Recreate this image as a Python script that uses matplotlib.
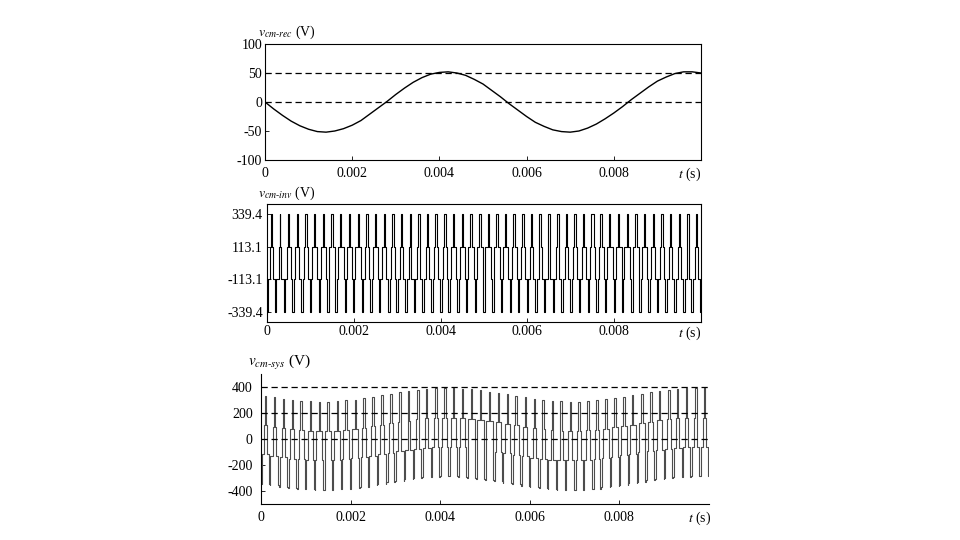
import numpy as np
import matplotlib
matplotlib.use('Agg')
import matplotlib.pyplot as plt

plt.rcParams['font.family'] = 'Liberation Serif'
plt.rcParams['mathtext.fontset'] = 'stix'

# rectifier common-mode voltage, read every 0.2 ms
t_rec = np.linspace(0, 0.01, 51)
v_rec = [0, -12, -23, -33, -41, -47, -51, -52, -50, -46,
         -40, -32, -21, -10, 1, 13, 24, 34, 42, 48,
         51, 52, 50, 46, 39, 31, 20, 9, -3, -14,
         -25, -35, -42, -48, -51, -52, -50, -45, -38, -29,
         -19, -8, 4, 15, 26, 36, 43, 49, 52, 52, 50]

# inverter common-mode levels and per switching period timing (5 kHz)
cm_levels = [-339.4, -113.1, 113.1, 339.4]
T_sw = 0.0002
zero_frac = [0.30, 0.22, 0.35, 0.28, 0.41, 0.25, 0.33, 0.46, 0.27, 0.38,
             0.24, 0.43, 0.31, 0.26, 0.48, 0.35, 0.29, 0.40, 0.23, 0.37,
             0.45, 0.28, 0.34, 0.25, 0.42, 0.31, 0.39, 0.22, 0.47, 0.33,
             0.27, 0.44, 0.30, 0.36, 0.24, 0.41, 0.29, 0.49, 0.32, 0.26,
             0.38, 0.23, 0.45, 0.34, 0.28, 0.40, 0.25, 0.36, 0.43, 0.30]
low_share = [0.80, 0.72, 0.63, 0.55, 0.46, 0.38, 0.30, 0.22, 0.18, 0.27,
             0.35, 0.44, 0.52, 0.61, 0.69, 0.78, 0.84, 0.75, 0.66, 0.58,
             0.49, 0.41, 0.33, 0.25, 0.17, 0.24, 0.32, 0.41, 0.50, 0.58,
             0.67, 0.75, 0.83, 0.77, 0.68, 0.60, 0.51, 0.43, 0.34, 0.26,
             0.19, 0.22, 0.31, 0.39, 0.48, 0.56, 0.65, 0.73, 0.82, 0.79]

xticks = [0, 0.002, 0.004, 0.006, 0.008]
xticklabels = ['0', '0.002', '0.004', '0.006', '0.008']


def cm_steps(offsets):
    ts, vs = [], []
    for k in range(len(zero_frac)):
        z = zero_frac[k]
        s = low_share[k]
        lo = (1 - z) * s / 2
        hi = (1 - z) * (1 - s) / 2
        durs = [z / 4, lo, hi, z / 2, hi, lo, z / 4]
        lev = [0, 1, 2, 3, 2, 1, 0]
        t0 = k * T_sw
        for d, l in zip(durs, lev):
            ts.append(t0)
            vs.append(cm_levels[l] + offsets[k])
            t0 += d * T_sw
    ts.append(len(zero_frac) * T_sw)
    vs.append(vs[-1])
    return ts, vs


fig = plt.figure(figsize=(9.6, 5.4), dpi=100)
fs = 10

# top: rectifier
ax1 = fig.add_axes([265/960, 1-160/540, 436/960, 116/540])
ax1.plot(t_rec, v_rec, color='black', lw=1.0)
for y in [50, 0]:
    ax1.axhline(y, color='black', lw=0.9, dashes=(5, 3))
ax1.set_xlim(0, 0.01)
ax1.set_ylim(-100, 100)
ax1.set_yticks([-100, -50, 0, 50, 100])
ax1.set_yticklabels(['-100', '-50', '0', '50', '100'])
ax1.tick_params(axis='y', pad=2)
ax1.tick_params(axis='x', pad=5)
fig.text(258/960, 1-32/540, r'$v_{cm\text{-}rec}$ (V)', fontsize=fs, ha='left', va='center')

# middle: inverter
ax2 = fig.add_axes([267/960, 1-322/540, 434/960, 118/540])
ts, vs = cm_steps([0] * len(zero_frac))
ax2.step(ts, vs, where='post', color='black', lw=0.8)
ax2.set_xlim(0, 0.01)
ax2.set_ylim(-408, 408)
ax2.set_yticks(cm_levels)
ax2.set_yticklabels(['-339.4', '-113.1', '113.1', '339.4'])
ax2.tick_params(axis='y', pad=3)
ax2.tick_params(axis='x', pad=2)
fig.text(258/960, 1-193/540, r'$v_{cm\text{-}inv}$ (V)', fontsize=fs, ha='left', va='center')

# bottom: system
ax3 = fig.add_axes([261/960, 1-504/540, 448/960, 130/540])
offs = [(v_rec[k] + v_rec[k + 1]) / 2 for k in range(len(zero_frac))]
ts3, vs3 = cm_steps(offs)
ax3.step(ts3, vs3, where='post', color='0.3', lw=0.8)
for y in [400, 200, 0]:
    ax3.axhline(y, color='black', lw=0.9, dashes=(5, 3))
ax3.set_xlim(0, 0.01)
ax3.set_ylim(-500, 500)
ax3.set_yticks([-400, -200, 0, 200, 400])
ax3.set_yticklabels(['-400', '-200', '0', '200', '400'])
ax3.spines['top'].set_visible(False)
ax3.spines['right'].set_visible(False)
ax3.tick_params(axis='y', pad=6)
ax3.tick_params(axis='x', pad=5)
fig.text(248/960, 1-362/540, r'$v_{cm\text{-}sys}$ (V)', fontsize=fs + 1, ha='left', va='center')

for ax in [ax1, ax2, ax3]:
    ax.set_xticks(xticks)
    ax.set_xticklabels(xticklabels)
    ax.tick_params(direction='in', length=3, width=0.6, labelsize=fs)
    for sp in ax.spines.values():
        sp.set_linewidth(0.8)
    ax.text(1.0, -0.5 * 0 - 0.02, r'$t$ (s)', transform=ax.transAxes, fontsize=fs,
            ha='right', va='top')
ax1.texts[-1].set_position((1.0, -0.05))
ax2.texts[-1].set_position((1.0, -0.02))
ax3.texts[-1].set_position((1.005, -0.045))

fig.savefig('out.png', dpi=100)
